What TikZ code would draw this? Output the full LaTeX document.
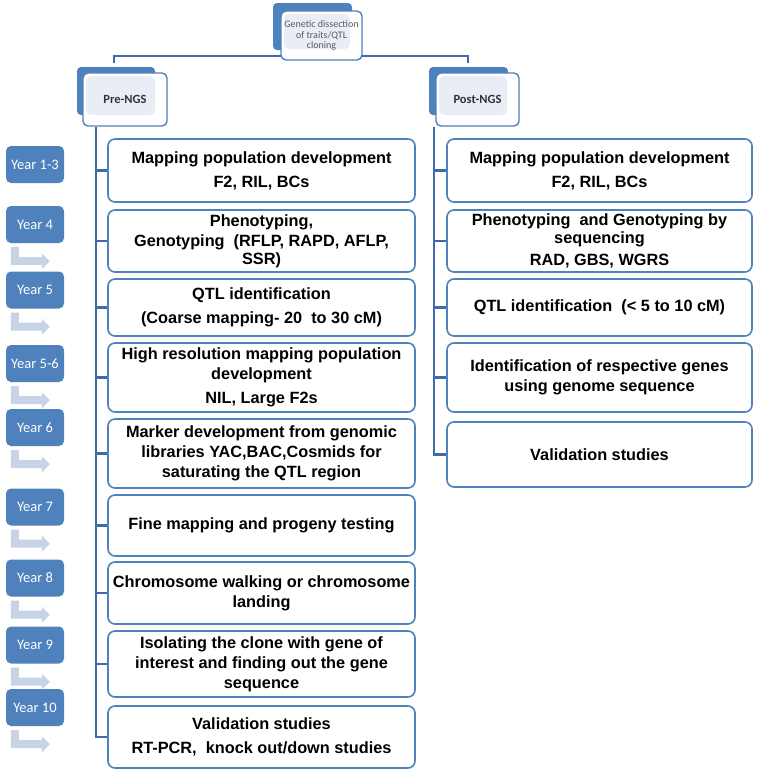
\documentclass[tikz,border=0pt]{standalone}
\usepackage{fontspec}
\setmainfont{Liberation Sans}
\newfontfamily\calibri{Carlito}
\usetikzlibrary{positioning,calc,backgrounds,arrows.meta}
\definecolor{boxblue}{RGB}{79,129,189}
\definecolor{linkblue}{RGB}{66,106,170}
\definecolor{paleblue}{RGB}{233,238,246}
\definecolor{arrowgray}{RGB}{200,211,230}
\definecolor{fontgray}{RGB}{90,90,90}

\begin{document}
\begin{tikzpicture}[x=1pt, y=-1pt, >=Stealth,
	stepbox/.style={draw=boxblue, line width=1.6pt, rounded corners=7pt, fill=white, align=center, inner sep=2pt, font=\bfseries\fontsize{16.3}{20}\selectfont},
	leftbox/.style={stepbox, minimum width=307pt},
	rightbox/.style={stepbox, minimum width=305pt},
	yearbox/.style={fill=boxblue, rounded corners=5pt, minimum width=58pt, minimum height=37pt, text=white, font=\calibri\fontsize{14.5}{16}\selectfont},
	headbox/.style={draw=boxblue, line width=1.4pt, rounded corners=5pt, fill=white, align=center, inner sep=1pt,
		path picture={\fill[paleblue] ($(path picture bounding box.north west)+(3,3)$) rectangle ($(path picture bounding box.south east)+(-12,-11)$);}},
	backbox/.style={fill=boxblue, rounded corners=4pt},
	link/.style={draw=linkblue, line width=2.2pt},
	yeararrow/.style={fill=arrowgray}
	]
	\useasboundingbox (0,0) rectangle (756,774);

	% header boxes
	\fill[backbox] (273,3) rectangle (352,50);
	\fill[backbox] (77,67) rectangle (155,115);
	\fill[backbox] (429,67) rectangle (508,115);
	\node[headbox, minimum width=81pt, minimum height=49pt, font=\calibri\fontsize{10}{10.5}\selectfont, text=fontgray] (top) at (321.5,35.5) {Genetic dissection\\of traits/QTL\\cloning};
	\node[headbox, minimum width=84pt, minimum height=53pt, font=\calibri\bfseries\fontsize{12.5}{14}\selectfont, text=black!80] (pre) at (125,99.5) {Pre-NGS};
	\node[headbox, minimum width=83pt, minimum height=53pt, font=\calibri\bfseries\fontsize{12.5}{14}\selectfont, text=black!80] (post) at (477.5,99.5) {Post-NGS};

	% pre-NGS steps
	\node[leftbox, minimum height=63pt] (l1) at (261.5,170.5) {Mapping population development\\[4pt]F2, RIL, BCs};
	\node[leftbox, minimum height=62pt] (l2) at (261.5,241) {Phenotyping,\\Genotyping\ \ (RFLP, RAPD, AFLP,\\[-2pt]SSR)};
	\node[leftbox, minimum height=57pt] (l3) at (261.5,307.5) {QTL identification\\[4pt](Coarse mapping- 20\ \ to 30 cM)};
	\node[leftbox, minimum height=69pt] (l4) at (261.5,377.5) {High resolution mapping population\\development\\[4pt]NIL, Large F2s};
	\node[leftbox, minimum height=69pt] (l5) at (261.5,453.5) {Marker development from genomic\\libraries YAC,BAC,Cosmids for\\saturating the QTL region};
	\node[leftbox, minimum height=61pt] (l6) at (261.5,525.5) {Fine mapping and progeny testing};
	\node[leftbox, minimum height=62pt] (l7) at (261.5,593) {Chromosome walking or chromosome\\landing};
	\node[leftbox, minimum height=66pt] (l8) at (261.5,664) {Isolating the clone with gene of\\interest and finding out the gene\\sequence};
	\node[leftbox, minimum height=62pt] (l9) at (261.5,737) {Validation studies\\[4pt]RT-PCR,\ \ knock out/down studies};

	% post-NGS steps
	\node[rightbox, minimum height=63pt] (r1) at (599.5,170.5) {Mapping population development\\[4pt]F2, RIL, BCs};
	\node[rightbox, minimum height=62pt] (r2) at (599.5,241) {Phenotyping\ \ and Genotyping by\\[-2pt]sequencing\\[2pt]RAD, GBS, WGRS};
	\node[rightbox, minimum height=57pt] (r3) at (599.5,307.5) {QTL identification\ \ (< 5 to 10 cM)};
	\node[rightbox, minimum height=69pt] (r4) at (599.5,377.5) {Identification of respective genes\\using genome sequence};
	\node[rightbox, minimum height=65pt] (r5) at (599.5,454.5) {Validation studies};

	% year markers
	\foreach \name/\lbl/\yc in {y13/Year 1-3/164.5, y4/Year 4/224.5, y5/Year 5/290, y56/Year 5-6/363.5, y6/Year 6/427.5, y7/Year 7/507, y8/Year 8/578, y9/Year 9/645, y10/Year 10/707.5}
		\node[yearbox] (\name) at (35,\yc) {\lbl};
	\foreach \name in {y4,y5,y56,y6,y7,y8,y9,y10}
		\fill[yeararrow] ($(\name.south west)+(5,4)$) -- ++(8,0) -- ++(0,10) -- ++(23,0) -- ++(0,-4) -- ++(8,8) -- ++(-8,8) -- ++(0,-4) -- ++(-31,0) -- cycle;

	% connectors
	\begin{scope}[on background layer]
		\draw[link] ($(pre.north west)+(32,-9)$) |- ($(post.north west)+(33,-16)$) -- ++(0,7);
	\end{scope}
	\draw[link] ($(pre.south west)+(14,0)$) |- (l9.west);
	\foreach \i in {1,...,8}
		\draw[link] (l\i.west) -- ++(-11,0);
	\draw[link] ($(post.south west)+(-1,0)$) |- (r5.west);
	\foreach \i in {1,...,4}
		\draw[link] (r\i.west) -- ++(-12,0);
\end{tikzpicture}
\end{document}
